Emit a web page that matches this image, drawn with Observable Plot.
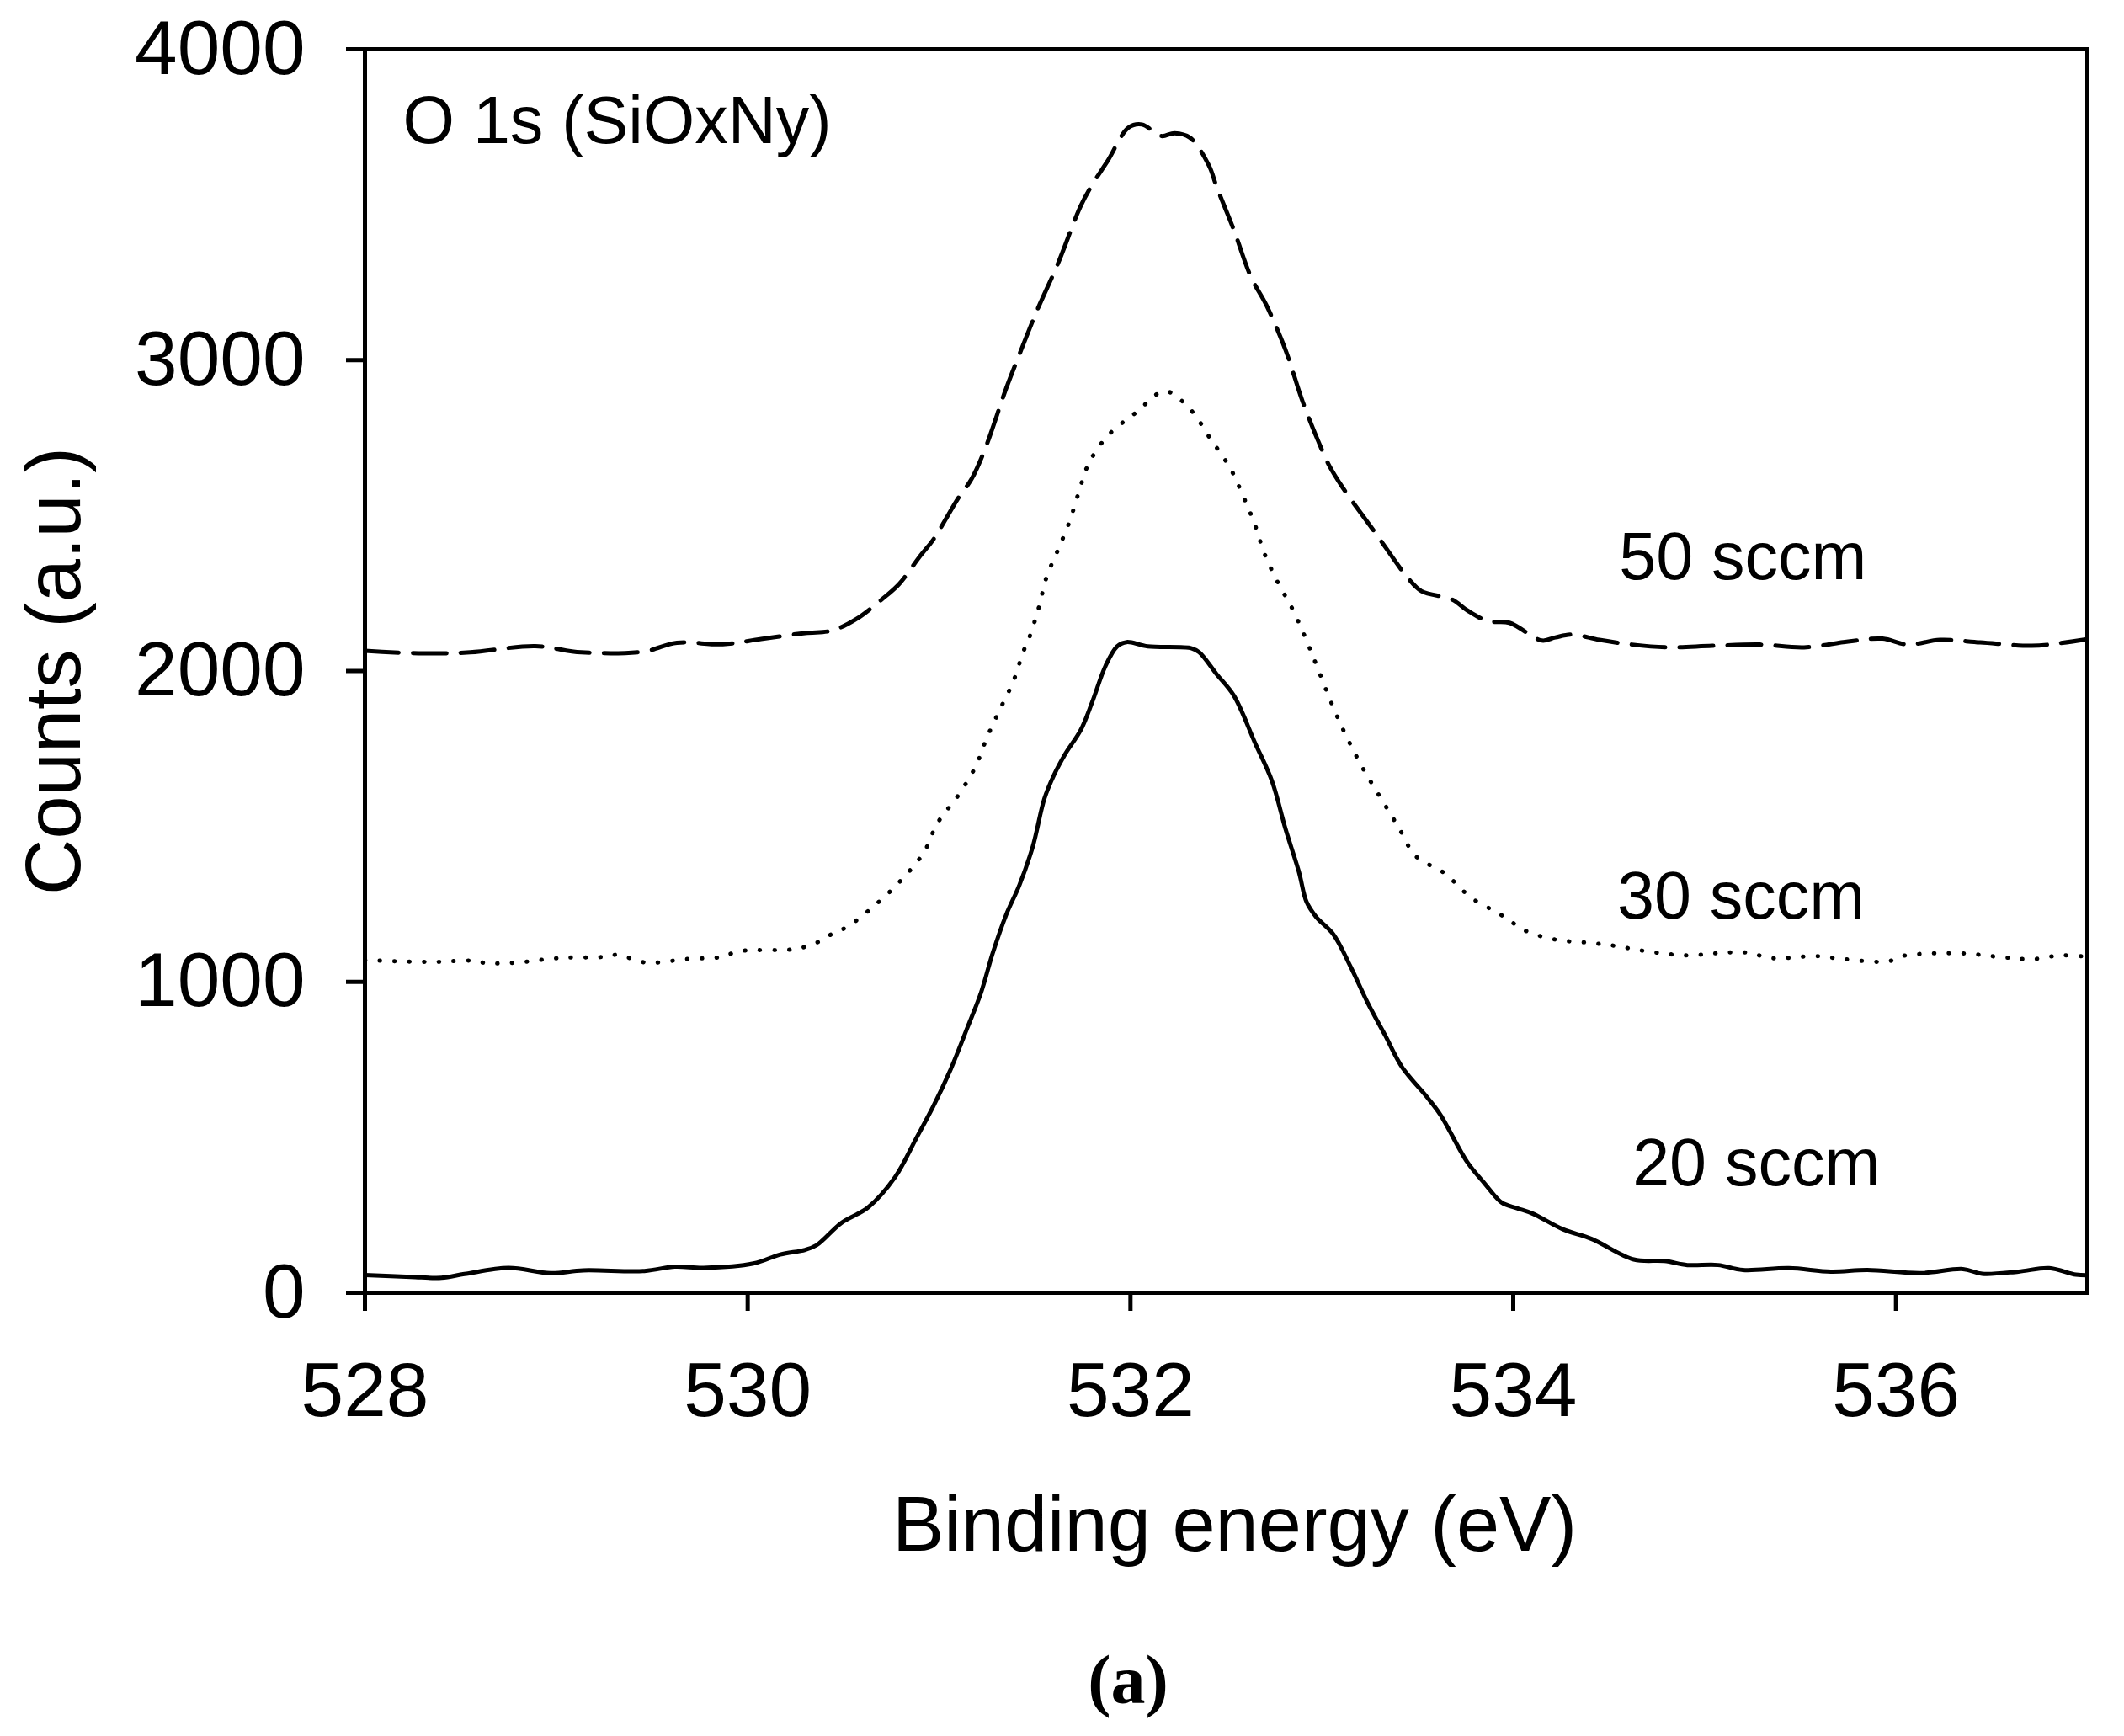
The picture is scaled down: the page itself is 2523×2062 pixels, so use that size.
<!DOCTYPE html>
<html>
<head>
<meta charset="utf-8">
<script src="https://cdn.jsdelivr.net/npm/d3@7"></script>
<script src="https://cdn.jsdelivr.net/npm/@observablehq/plot@0.6"></script>
<style>
  html, body { margin: 0; padding: 0; background: #fff; }
  #caption { position: relative; width: 2523px; height: 162px; }
  #caption span { position: absolute; top: 55px; left: 1340px; transform: translateX(-50%);
    font-family: "Liberation Serif", "Times New Roman", serif; font-weight: bold; font-size: 82px; line-height: 82px; color: #000; }
</style>
</head>
<body>
<div id="chart"></div>
<div id="caption"><span>(a)</span></div>
<script>
// ---- data (binding energy in eV, counts in a.u.) ----
const energy20 = [528.00,528.24,528.40,528.52,528.75,528.97,529.14,529.46,529.62,529.77,530.03,530.17,530.30,530.36,530.49,530.63,530.77,530.88,530.97,531.06,531.15,531.22,531.28,531.35,531.42,531.49,531.55,531.60,531.66,531.74,531.80,531.87,531.93,531.98,532.09,532.32,532.36,532.45,532.54,532.65,532.74,532.81,532.88,532.92,532.97,533.06,533.15,533.24,533.33,533.42,533.55,533.62,533.76,533.85,533.94,534.02,534.10,534.26,534.41,534.63,534.79,534.91,535.07,535.20,535.44,535.66,535.85,536.13,536.35,536.45,536.64,536.80,536.94,537.00];
const counts20 = [57,51,48,60,80,63,72,70,84,80,94,123,138,153,225,275,372,496,600,718,856,967,1092,1215,1312,1436,1589,1665,1734,1810,1900,2017,2079,2093,2079,2073,2060,1990,1921,1770,1645,1492,1354,1257,1209,1153,1049,932,829,725,629,572,420,352,290,272,255,204,173,107,102,89,89,73,79,68,73,63,76,61,68,79,58,56];

const energy30 = [528.00,528.34,528.56,528.64,528.79,529.02,529.24,529.32,529.47,529.69,529.85,529.92,529.99,530.21,530.29,530.37,530.44,530.52,530.66,530.80,530.92,530.99,531.10,531.19,531.25,531.32,531.39,531.44,531.47,531.52,531.56,531.62,531.68,531.73,531.78,531.88,532.03,532.18,532.31,532.42,532.52,532.59,532.65,532.70,532.77,532.85,532.92,532.98,533.07,533.14,533.22,533.31,533.40,533.49,533.64,533.78,533.93,534.01,534.08,534.23,534.39,534.53,534.68,534.91,535.06,535.21,535.36,535.58,535.73,535.96,536.03,536.33,536.56,536.71,536.86,537.00];
const counts30 = [1070,1064,1068,1060,1062,1077,1080,1087,1062,1074,1079,1092,1101,1103,1111,1129,1154,1177,1244,1326,1416,1509,1600,1692,1786,1879,1970,2062,2105,2202,2299,2388,2478,2575,2665,2756,2832,2900,2843,2745,2654,2561,2471,2378,2285,2195,2098,2006,1868,1775,1681,1589,1498,1405,1350,1271,1218,1185,1160,1135,1126,1116,1100,1085,1092,1095,1076,1083,1073,1066,1083,1092,1079,1073,1085,1081];

const energy50 = [528.00,528.28,528.55,528.89,529.13,529.46,529.63,529.87,530.07,530.30,530.44,530.57,530.70,530.79,530.90,530.97,531.10,531.17,531.24,531.35,531.42,531.51,531.62,531.74,531.80,531.88,531.99,532.06,532.16,532.23,532.31,532.41,532.45,532.54,532.63,532.71,532.81,532.90,532.98,533.04,533.11,533.28,533.45,533.52,533.68,533.76,533.87,533.98,534.15,534.22,534.31,534.45,534.62,534.81,535.04,535.29,535.52,535.75,535.93,536.06,536.23,536.44,536.71,536.85,537.00];
const counts50 = [2065,2057,2060,2080,2060,2063,2091,2086,2103,2122,2130,2168,2230,2279,2369,2423,2556,2618,2714,2908,3019,3157,3309,3496,3564,3640,3748,3758,3721,3730,3716,3626,3558,3419,3267,3177,3033,2866,2741,2659,2589,2444,2299,2257,2230,2195,2160,2155,2098,2108,2117,2100,2085,2076,2081,2085,2076,2095,2104,2085,2100,2092,2081,2089,2102];

const xTicks = [528, 530, 532, 534, 536];
const yTicks = [0, 1000, 2000, 3000, 4000];
const seriesNames = ["20 sccm", "30 sccm", "50 sccm"];
const labelEnergy = [535.27, 535.19, 535.20];
const labelCounts = [344, 1203, 2295];
const panelTitle = "O 1s (SiOxNy)";
const xTitle = "Binding energy (eV)";
const yTitle = "Counts (a.u.)";

// ---- build tables ----
const toRows = (E, C) => E.map((e, i) => ({x: e, y: C[i]}));
const d20 = toRows(energy20, counts20);
const d30 = toRows(energy30, counts30);
const d50 = toRows(energy50, counts50);
const labels = seriesNames.map((n, i) => ({name: n, x: labelEnergy[i], y: labelCounts[i]}));

const W = 2523, H = 1900;
const FONT = '"Liberation Sans", Arial, Helvetica, sans-serif';

const chart = Plot.plot({
  width: W,
  height: H,
  marginLeft: 433,
  marginRight: 44,
  marginTop: 58,
  marginBottom: H - 1535,
  style: {fontFamily: FONT, fontSize: "91px", background: "#fff", color: "#000", overflow: "visible"},
  x: {domain: [528, 537]},
  y: {domain: [0, 4000]},
  marks: [
    Plot.line(d50, {x: "x", y: "y", stroke: "#000", strokeWidth: 5, strokeDasharray: "40,17", curve: "catmull-rom"}),
    Plot.line(d30, {x: "x", y: "y", stroke: "#000", strokeWidth: 5, strokeDasharray: "0.5,17", strokeLinecap: "round", curve: "catmull-rom"}),
    Plot.line(d20, {x: "x", y: "y", stroke: "#000", strokeWidth: 5, curve: "catmull-rom"}),
    Plot.frame({stroke: "#000", strokeWidth: 5}),
    Plot.axisX({ticks: xTicks, tickFormat: d => String(d), tickSize: 22, tickPadding: 60, strokeWidth: 5, fontSize: 91, label: null}),
    Plot.axisY({ticks: yTicks, tickFormat: d => String(d), tickSize: 22, tickPadding: 49, strokeWidth: 5, fontSize: 91, label: null}),
    Plot.text(labels, {x: "x", y: "y", text: "name", fontSize: 79, textAnchor: "middle", lineAnchor: "bottom", fill: "#000"}),
    Plot.text([panelTitle], {frameAnchor: "top-left", text: d => d, dx: 45, dy: 111, fontSize: 79, textAnchor: "start", lineAnchor: "bottom", fill: "#000"}),
    Plot.text([xTitle], {frameAnchor: "bottom", text: d => d, dx: 10, dy: 306, fontSize: 92, textAnchor: "middle", lineAnchor: "bottom", fill: "#000"}),
    Plot.text([yTitle], {frameAnchor: "left", text: d => d, dx: -339, rotate: -90, fontSize: 92, textAnchor: "middle", lineAnchor: "bottom", fill: "#000"})
  ]
});
document.getElementById("chart").appendChild(chart);
</script>
</body>
</html>
